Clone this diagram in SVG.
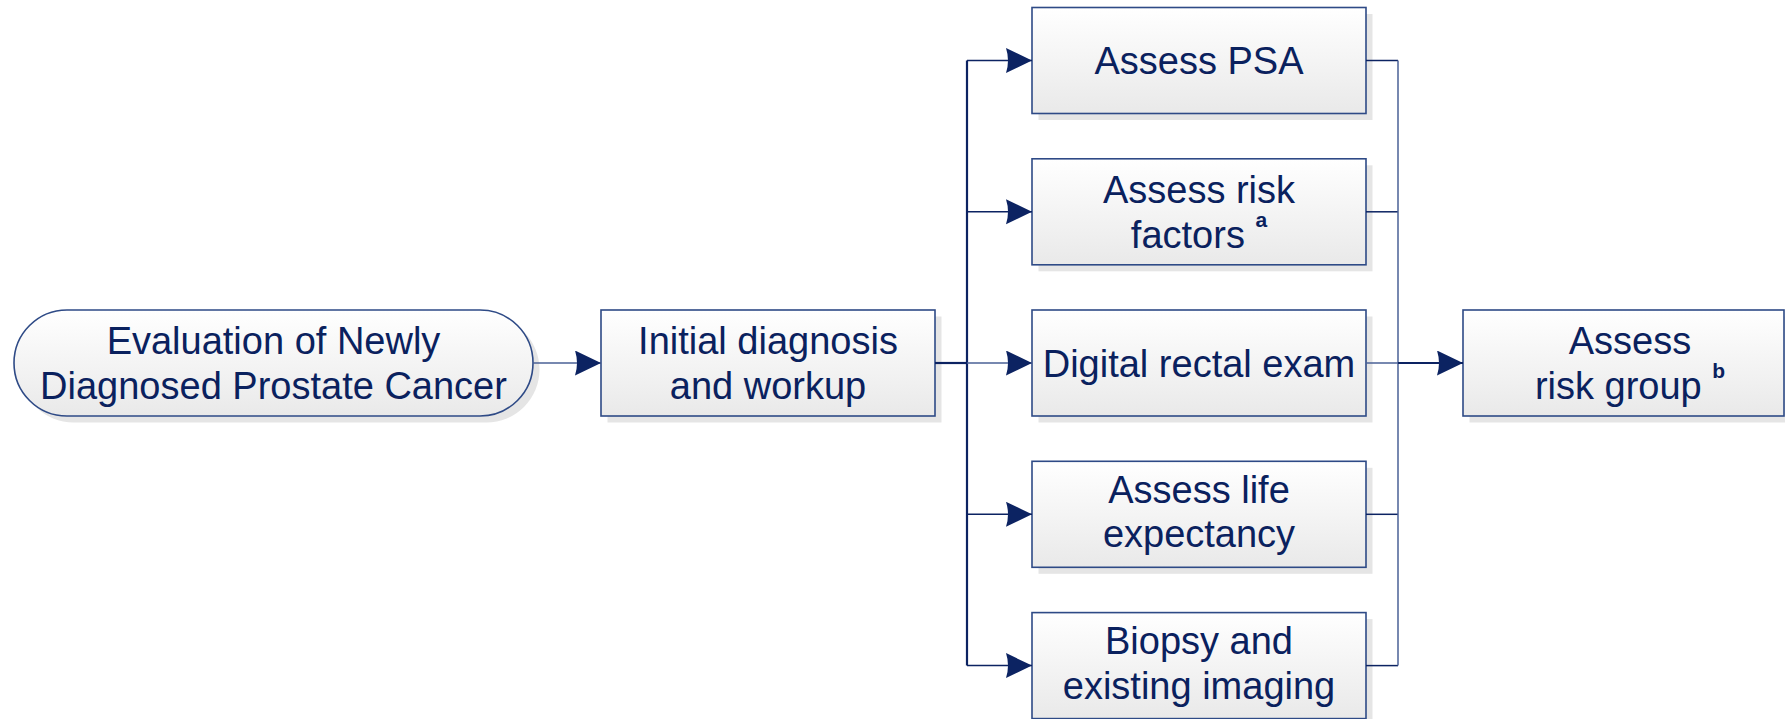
<svg xmlns="http://www.w3.org/2000/svg" width="1785" height="719" viewBox="0 0 1785 719">
<defs>
<linearGradient id="fillGrad" x1="0" y1="0" x2="0" y2="1">
<stop offset="0" stop-color="#ffffff"/>
<stop offset="1" stop-color="#e9e9e9"/>
</linearGradient>
<marker id="arrow" markerUnits="userSpaceOnUse" markerWidth="27" markerHeight="26" refX="26" refY="12.5" orient="auto">
<path d="M0,0 L26,12.5 L0,25 Q4,12.5 0,0 z" fill="#0c2362"/>
</marker>
</defs>
<style>
.shadow{fill:#e5e5e5;stroke:none}
.box{fill:url(#fillGrad);stroke:#2e4a86;stroke-width:1.6}
.lbl{font-family:"Liberation Sans",Arial,sans-serif;font-size:38px;fill:#0a215e;text-anchor:middle}
.sup{font-size:21px;font-weight:bold}
.conn{fill:none;stroke:#0c2362;stroke-width:1.5}
.light{stroke:#4a6096}
.thick{stroke-width:2.2}
</style>
<rect width="1785" height="719" fill="#ffffff"/>

<g id="node-evaluation">
<rect class="shadow" x="20.5" y="316.5" width="519" height="106" rx="53"/>
<rect class="box" x="14" y="310" width="519" height="106" rx="53"/>
<text class="lbl" x="273.5" y="353.8">Evaluation of Newly</text>
<text class="lbl" x="273.5" y="399.4">Diagnosed Prostate Cancer</text>
</g>

<g id="node-initial">
<rect class="shadow" x="607.5" y="316.5" width="334" height="106"/>
<rect class="box" x="601" y="310" width="334" height="106"/>
<text class="lbl" x="768" y="353.8">Initial diagnosis</text>
<text class="lbl" x="768" y="399.4">and workup</text>
</g>

<g id="node-psa">
<rect class="shadow" x="1038.5" y="14" width="334" height="106"/>
<rect class="box" x="1032" y="7.5" width="334" height="106"/>
<text class="lbl" x="1199" y="74.1">Assess PSA</text>
</g>

<g id="node-risk-factors">
<rect class="shadow" x="1038.5" y="165.3" width="334" height="106"/>
<rect class="box" x="1032" y="158.8" width="334" height="106"/>
<text class="lbl" x="1199" y="202.6">Assess risk</text>
<text class="lbl" x="1199" y="248.2">factors <tspan class="sup" dy="-21">a</tspan></text>
</g>

<g id="node-dre">
<rect class="shadow" x="1038.5" y="316.5" width="334" height="106"/>
<rect class="box" x="1032" y="310" width="334" height="106"/>
<text class="lbl" x="1199" y="376.6">Digital rectal exam</text>
</g>

<g id="node-life">
<rect class="shadow" x="1038.5" y="467.8" width="334" height="106"/>
<rect class="box" x="1032" y="461.3" width="334" height="106"/>
<text class="lbl" x="1199" y="502.6">Assess life</text>
<text class="lbl" x="1199" y="547.2">expectancy</text>
</g>

<g id="node-biopsy">
<rect class="shadow" x="1038.5" y="619.1" width="334" height="106"/>
<rect class="box" x="1032" y="612.6" width="334" height="106"/>
<text class="lbl" x="1199" y="653.6">Biopsy and</text>
<text class="lbl" x="1199" y="698.6">existing imaging</text>
</g>

<g id="node-risk-group">
<rect class="shadow" x="1469.5" y="316.5" width="334" height="106"/>
<rect class="box" x="1463" y="310" width="321" height="106"/>
<text class="lbl" x="1630" y="353.8">Assess</text>
<text class="lbl" x="1630" y="399.4">risk group <tspan class="sup" dy="-21">b</tspan></text>
</g>

<g id="connectors">
<line class="conn light" x1="533" y1="363" x2="601" y2="363" marker-end="url(#arrow)"/>
<line class="conn thick" x1="935" y1="363" x2="967" y2="363"/>
<line class="conn thick" x1="967" y1="60.5" x2="967" y2="665.6"/>
<line class="conn" x1="967" y1="60.5" x2="1032" y2="60.5" marker-end="url(#arrow)"/>
<line class="conn" x1="967" y1="211.8" x2="1032" y2="211.8" marker-end="url(#arrow)"/>
<line class="conn light" x1="967" y1="363" x2="1032" y2="363" marker-end="url(#arrow)"/>
<line class="conn" x1="967" y1="514.3" x2="1032" y2="514.3" marker-end="url(#arrow)"/>
<line class="conn" x1="967" y1="665.6" x2="1032" y2="665.6" marker-end="url(#arrow)"/>
<line class="conn" x1="1366" y1="60.5" x2="1398" y2="60.5"/>
<line class="conn" x1="1366" y1="211.8" x2="1398" y2="211.8"/>
<line class="conn light" x1="1366" y1="363" x2="1398" y2="363"/>
<line class="conn" x1="1366" y1="514.3" x2="1398" y2="514.3"/>
<line class="conn" x1="1366" y1="665.6" x2="1398" y2="665.6"/>
<line class="conn light" x1="1398" y1="60.5" x2="1398" y2="665.6"/>
<line class="conn thick" x1="1398" y1="363" x2="1463" y2="363" marker-end="url(#arrow)"/>
</g>
</svg>
